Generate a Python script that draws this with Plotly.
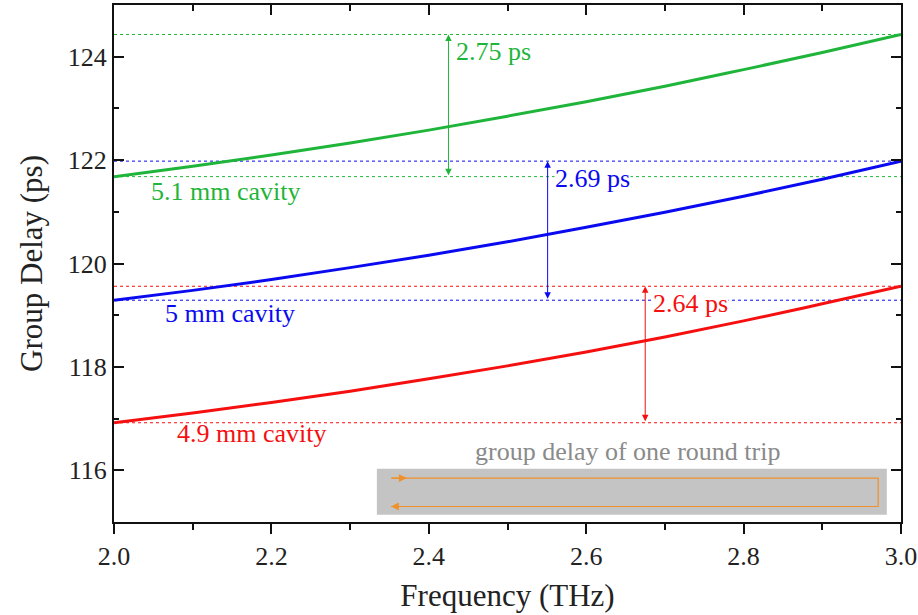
import plotly.graph_objects as go

freq = [2.0, 2.1, 2.2, 2.3, 2.4, 2.5, 2.6, 2.7, 2.8, 2.9, 3.0]
delay_51 = [121.68, 121.88, 122.10, 122.33, 122.58, 122.85, 123.13, 123.43, 123.75, 124.08, 124.43]
delay_50 = [119.29, 119.48, 119.69, 119.92, 120.16, 120.42, 120.70, 120.99, 121.30, 121.63, 121.98]
delay_49 = [116.92, 117.11, 117.31, 117.53, 117.77, 118.02, 118.29, 118.58, 118.89, 119.22, 119.56]

series_names = ["5.1 mm cavity", "5 mm cavity", "4.9 mm cavity"]
series_vals = [delay_51, delay_50, delay_49]
colors = ["#1fb53a", "#0a0af0", "#f50f0f"]
diff_labels = ["2.75 ps", "2.69 ps", "2.64 ps"]
arrow_x = [2.425, 2.551, 2.675]
label_pos = [(2.045, 121.39), (2.062, 119.03), (2.077, 116.71)]

FONT = "Liberation Serif"
FS = 26

fig = go.Figure()

# grey box with round trip path
fig.add_shape(type="rect", x0=2.334, x1=2.982, y0=115.14, y1=116.03,
              fillcolor="#c4c4c4", line=dict(width=0), layer="below")

# dotted reference lines at start and end of each curve
for vals, c in zip(series_vals, colors):
    for v in (vals[0], vals[-1]):
        fig.add_trace(go.Scatter(x=[freq[0], freq[-1]], y=[v, v], mode="lines",
                                 line=dict(color=c, width=1, dash="dot"),
                                 hoverinfo="skip", showlegend=False))

for vals, c, nm in zip(series_vals, colors, series_names):
    fig.add_trace(go.Scatter(x=freq, y=vals, mode="lines", name=nm,
                             line=dict(color=c, width=3, shape="spline"),
                             showlegend=False))

fig.add_trace(go.Scatter(x=[2.352, 2.971, 2.971, 2.352], y=[115.85, 115.85, 115.30, 115.30],
                         mode="lines", line=dict(color="#f0902a", width=1.2),
                         hoverinfo="skip", showlegend=False))
annotations = []
# orange arrowheads
annotations.append(dict(x=2.372, y=115.85, ax=2.352, ay=115.85, xref="x", yref="y",
                        axref="x", ayref="y", showarrow=True, arrowhead=2, arrowsize=1.3,
                        arrowwidth=1.2, arrowcolor="#f0902a", text=""))
annotations.append(dict(x=2.352, y=115.30, ax=2.372, ay=115.30, xref="x", yref="y",
                        axref="x", ayref="y", showarrow=True, arrowhead=2, arrowsize=1.3,
                        arrowwidth=1.2, arrowcolor="#f0902a", text=""))
annotations.append(dict(x=2.652, y=116.36, xref="x", yref="y", showarrow=False,
                        text="group delay of one round trip",
                        font=dict(family=FONT, size=FS, color="#8a8a8a")))

for vals, c, ax_, lab, nm, lp in zip(series_vals, colors, arrow_x, diff_labels, series_names, label_pos):
    annotations.append(dict(x=ax_, y=vals[-1], ax=ax_, ay=vals[0], xref="x", yref="y",
                            axref="x", ayref="y", showarrow=True, arrowhead=2, startarrowhead=2,
                            arrowside="end+start", arrowsize=1.3, startarrowsize=1.3,
                            arrowwidth=1, arrowcolor=c, text=""))
    annotations.append(dict(x=ax_ + 0.008, y=vals[-1] - 0.33, xref="x", yref="y", showarrow=False,
                            xanchor="left", text=lab, bgcolor="white", borderpad=0,
                            font=dict(family=FONT, size=FS, color=c)))
    annotations.append(dict(x=lp[0], y=lp[1], xref="x", yref="y", showarrow=False,
                            xanchor="left", text=nm,
                            font=dict(family=FONT, size=FS, color=c)))

fig.update_layout(
    width=918, height=615,
    margin=dict(l=114, r=17, t=5, b=93),
    plot_bgcolor="white", paper_bgcolor="white",
    font=dict(family=FONT, size=FS, color="#222"),
    annotations=annotations,
    xaxis=dict(range=[2.0, 3.0], tickvals=[2.0, 2.2, 2.4, 2.6, 2.8, 3.0],
               ticktext=["2.0", "2.2", "2.4", "2.6", "2.8", "3.0"], automargin=False,
               ticks="outside", ticklen=10, tickwidth=2, tickcolor="#111",
               minor=dict(dtick=0.1, tick0=2.0, ticks="outside", ticklen=6, tickwidth=2, tickcolor="#111"),
               showline=True, linecolor="#111", linewidth=2, showgrid=False, zeroline=False,
               title=dict(text="Frequency (THz)", font=dict(size=31, family=FONT), standoff=14),
               tickfont=dict(size=FS, family=FONT)),
    xaxis2=dict(range=[2.0, 3.0], overlaying="x", side="top", matches="x", automargin=False,
                tickvals=[2.0, 2.2, 2.4, 2.6, 2.8, 3.0], showticklabels=False,
                ticks="inside", ticklen=10, tickwidth=2, tickcolor="#111",
                minor=dict(dtick=0.1, tick0=2.0, ticks="inside", ticklen=6, tickwidth=2, tickcolor="#111"),
                showline=True, linecolor="#111", linewidth=2, showgrid=False, zeroline=False),
    yaxis=dict(range=[115, 125], tickvals=[116, 118, 120, 122, 124], automargin=False,
               ticks="inside", ticklen=10, tickwidth=2, tickcolor="#111",
               minor=dict(dtick=1, tick0=115, ticks="inside", ticklen=5, tickwidth=2, tickcolor="#111"),
               showline=True, linecolor="#111", linewidth=2, showgrid=False, zeroline=False,
               title=dict(text="Group Delay (ps)", font=dict(size=31, family=FONT), standoff=16),
               tickfont=dict(size=FS, family=FONT)),
    yaxis2=dict(range=[115, 125], overlaying="y", side="right", matches="y", automargin=False,
                tickvals=[116, 118, 120, 122, 124], showticklabels=False,
                ticks="inside", ticklen=10, tickwidth=2, tickcolor="#111",
                minor=dict(dtick=1, tick0=115, ticks="inside", ticklen=5, tickwidth=2, tickcolor="#111"),
                showline=True, linecolor="#111", linewidth=2, showgrid=False, zeroline=False),
)
# dummy trace to show the mirrored axes
fig.add_trace(go.Scatter(x=[2.0], y=[115], xaxis="x2", yaxis="y2", mode="markers",
                         marker=dict(opacity=0), hoverinfo="skip", showlegend=False))

fig.write_html("out.html")
